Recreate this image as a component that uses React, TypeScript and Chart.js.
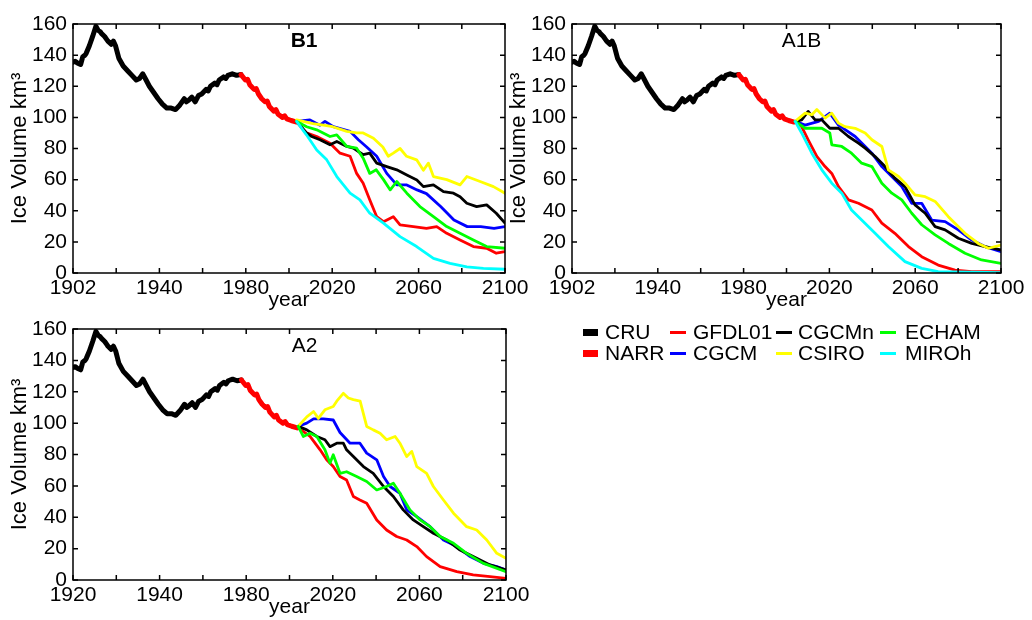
import React, { useEffect, useRef } from 'react';
import { Chart, registerables } from 'chart.js';

Chart.register(...registerables);

const FONT = '"Liberation Sans", Arial, Helvetica, sans-serif';

// ---------- data ----------
const cru: number[][] = [
  [1902, 135.5], [1903, 136], [1904, 135], [1905.5, 134], [1906.5, 139], [1907.5, 140], [1908, 141], [1909.5, 146], [1911, 152],
  [1912.5, 158.5], [1913.5, 156], [1914.5, 155], [1915, 154], [1916.5, 152], [1917.5, 150], [1918, 149], [1919.5, 147], [1920.5, 149],
  [1921.5, 146], [1923, 138], [1925, 133], [1927, 130], [1929, 127], [1931, 124], [1932.5, 125],
  [1934, 128], [1935.5, 124], [1937, 120], [1939, 116], [1941, 112], [1943, 108.5], [1945, 106],
  [1947, 106], [1949, 105], [1951, 108], [1953, 112], [1954, 110], [1955, 111], [1956.5, 113], [1957, 112], [1958, 110],
  [1959.5, 114], [1961, 115], [1963, 118], [1964, 117], [1965, 120], [1967, 122], [1968, 121], [1969, 124], [1971, 126],
  [1972, 125], [1973, 127], [1975, 128], [1977, 127], [1979, 127.5],
];
const narr: number[][] = [
  [1979, 127.5], [1981, 124], [1982, 124.5], [1983, 121], [1985, 118], [1986, 118.5], [1987, 115], [1988.5, 112], [1990, 110],
  [1991, 110.5], [1992, 107], [1994, 104], [1995, 105], [1996, 102], [1998, 100], [1999, 101], [2000, 99], [2002, 98], [2004.5, 97],
];

// B1 scenario
const b1Gfdl: number[][] = [
  [2004.5, 97], [2009, 90], [2013.7, 87.7], [2019.8, 83.4], [2024.4, 77], [2029, 75], [2032, 64],
  [2035, 57.7], [2038, 47], [2041.2, 36.2], [2044.3, 33], [2048.8, 36.2], [2051.9, 30.9], [2058, 29.8],
  [2064, 28.7], [2068.7, 29.8], [2073.3, 25.5], [2079.4, 21.2], [2085.5, 17], [2091.6, 15.9], [2096, 12.7], [2100, 13.7],
];
const b1Cgcm: number[][] = [
  [2004.5, 97.4], [2010.6, 98.4], [2015.2, 95], [2017.5, 97.4], [2021.3, 94], [2029, 91], [2032.8, 85.6],
  [2036.6, 81], [2041.2, 75], [2045.8, 64], [2050.4, 56.6], [2055, 56.6], [2059.7, 53.4], [2064, 51],
  [2070.5, 42.7], [2076.6, 34], [2082.7, 29.8], [2088.9, 29.8], [2095, 28.7], [2100, 29.8],
];
const b1Cgcmn: number[][] = [
  [2004.5, 97.4], [2009, 90], [2011.4, 87.7], [2015.2, 85.6], [2019.8, 82.4], [2022.9, 84.5], [2027.5, 81.3],
  [2030.5, 80.2], [2035, 76], [2038, 77], [2041.2, 70.6], [2045.8, 68.4], [2050.4, 66.3], [2055, 63],
  [2059.6, 59.8], [2062.6, 55.5], [2067.2, 56.6], [2071.8, 52.3], [2076.4, 51.3], [2079.4, 49], [2082.5, 44.8],
  [2087, 42.7], [2091.6, 43.8], [2096, 38.4], [2100, 32],
];
const b1Csiro: number[][] = [
  [2004.5, 98.4], [2012, 96], [2016.8, 95], [2021, 94], [2027.5, 91], [2032, 90], [2035, 90], [2039.7, 86.6],
  [2044, 81], [2046.5, 75], [2048.8, 77], [2051.9, 80], [2054.9, 75], [2059.5, 72.7], [2062.6, 66],
  [2064.9, 70.6], [2067.2, 62], [2073.3, 60], [2079.4, 56.6], [2082.5, 62], [2088.6, 58.8], [2094.7, 55.5], [2100, 51.3],
];
const b1Echam: number[][] = [
  [2004.5, 97.4], [2009.1, 94], [2013.7, 92], [2019.8, 87.7], [2022.9, 88.8], [2027.5, 81.3], [2032, 80.2],
  [2035, 73.8], [2038, 64], [2041, 66.3], [2044.3, 60], [2047.4, 53.4], [2050.4, 58.8], [2055, 51.3],
  [2061, 42.7], [2067.2, 36.2], [2073.3, 29.8], [2079.4, 25.5], [2085.5, 21.2], [2091.6, 17], [2100, 15.9],
];
const b1Miroh: number[][] = [
  [2004.5, 97.4], [2009, 88.8], [2013.7, 79], [2018.3, 72.7], [2022.9, 62], [2029, 51.3], [2033.5, 47],
  [2038, 38.4], [2044.3, 32], [2051.9, 23.4], [2059.5, 17], [2067.2, 9.4], [2074.8, 6.2], [2082.5, 4],
  [2090.1, 3], [2100, 2.4],
];

// A1B scenario
const a1bGfdl: number[][] = [
  [2005, 97.4], [2008, 94], [2011, 85.6], [2015, 74.9], [2018.8, 68.4], [2021.9, 64], [2025, 55.5],
  [2029.6, 47], [2034.2, 44.8], [2040.4, 40.5], [2045, 32], [2051, 25.5], [2057.3, 17], [2063.4, 10.5],
  [2071, 5.1], [2078.8, 1.9], [2086.5, 0.9], [2100, 0.9],
];
const a1bCgcm: number[][] = [
  [2005, 97.4], [2009.6, 95], [2015.8, 97.4], [2021, 102.7], [2025, 95], [2032.7, 87.7], [2037.3, 81.3],
  [2040.4, 77], [2045, 68.4], [2049.6, 62], [2054.2, 55.5], [2058.8, 44.8], [2063.4, 44.8], [2068, 34],
  [2074.2, 33], [2080.3, 27.7], [2086.5, 21.2], [2092.6, 17], [2100, 13.7],
];
const a1bCgcmn: number[][] = [
  [2005, 97.4], [2008, 98.4], [2011, 103.8], [2014.2, 98.4], [2017.3, 98.4], [2021, 93], [2025, 93],
  [2029.6, 87.7], [2034.2, 83.4], [2037.3, 80.2], [2041.9, 74.8], [2046.5, 68.4], [2051, 61], [2055.7, 55.5],
  [2060.3, 43.8], [2065, 38.4], [2069.6, 29.8], [2074.2, 27.7], [2080.3, 22.3], [2086.5, 19], [2092.6, 17], [2100, 14.8],
];
const a1bCsiro: number[][] = [
  [2005, 97.4], [2009.6, 102.7], [2012.7, 101.7], [2015, 105], [2018.8, 99.5], [2021.9, 102.7], [2025, 96.3],
  [2028, 94], [2032.7, 93], [2037.3, 90], [2040.4, 85.6], [2045, 81.3], [2048, 66.3], [2052.7, 62],
  [2055.7, 57.7], [2060.3, 50.2], [2065, 49], [2069.6, 46], [2075.7, 36.2], [2083.4, 25.5], [2089.5, 19],
  [2094.2, 15.9], [2100, 18],
];
const a1bEcham: number[][] = [
  [2005, 97.4], [2009.6, 93], [2017.3, 93], [2021, 90], [2021.9, 82.4], [2026.5, 81.3], [2031, 77],
  [2035.7, 70.6], [2040.4, 68.4], [2045, 57.7], [2049.6, 51.3], [2054.2, 47], [2058.8, 38.4], [2063.4, 31],
  [2069.6, 24.5], [2075.7, 19], [2083.4, 12.7], [2091, 8.4], [2100, 6.2],
];
const a1bMiroh: number[][] = [
  [2005, 97.4], [2008, 90], [2012.7, 77], [2017.3, 66.3], [2021.9, 57.7], [2026.5, 51.3], [2031, 40.5],
  [2035.7, 34], [2041.9, 25.5], [2048, 17], [2055.7, 7.3], [2063.4, 3], [2071, 0.9], [2100, 0.2],
];

// A2 scenario
const a2Gfdl: number[][] = [
  [2005, 97], [2010.4, 91.5], [2015, 83], [2018, 76.6], [2021, 72.3], [2024.1, 66], [2027.1, 63.8],
  [2030.2, 53.2], [2033.2, 51], [2036.3, 48.9], [2040.9, 38.3], [2045.4, 31.9], [2050, 27.7], [2054.6, 25.5],
  [2059.2, 21.3], [2063.7, 14.9], [2069.9, 8.5], [2077.5, 5.3], [2085, 3.2], [2092.7, 2.1], [2100, 1],
];
const a2Cgcm: number[][] = [
  [2005, 98], [2008.9, 100], [2012, 102.7], [2016.5, 102.7], [2021, 102], [2024.1, 94], [2028.7, 87.2],
  [2033.2, 87.2], [2036.3, 80.9], [2040.9, 76.6], [2044, 66], [2047, 59.6], [2051.5, 55.3], [2054.6, 44.7],
  [2059.2, 40.4], [2065.3, 34], [2071.4, 25.5], [2077.5, 21.3], [2083.6, 14.9], [2089.7, 10.6], [2095.8, 8.5], [2100, 6.4],
];
const a2Cgcmn: number[][] = [
  [2005, 98], [2008.9, 95.7], [2013.5, 91.5], [2017.2, 89.4], [2019.5, 85], [2022.6, 87.2], [2025.6, 87.2],
  [2027.1, 83], [2030.2, 78.7], [2034.8, 72.3], [2039.3, 68], [2044, 59.6], [2048.5, 53.2], [2053, 44.7],
  [2057.6, 38.3], [2062.2, 34], [2066.8, 29.8], [2072.9, 25.5], [2079, 19.1], [2085, 14.9], [2092.7, 9.6], [2100, 6.4],
];
const a2Csiro: number[][] = [
  [2005, 98], [2008.9, 104], [2012, 107.4], [2014.2, 103], [2017.2, 108.5], [2021, 110.6], [2022.6, 114],
  [2025.6, 119], [2027.9, 116], [2030.2, 115], [2033.3, 114], [2036.3, 97.9], [2039.3, 95.7], [2042.4, 93.6],
  [2045.4, 89.4], [2049.3, 91.5], [2051.5, 87.2], [2054.6, 78.7], [2056.9, 82], [2059.2, 72.3], [2063.7, 68],
  [2066.8, 59.6], [2071.4, 51], [2076, 42.6], [2082, 34], [2086.6, 31.9], [2091.2, 25.5], [2095.8, 17], [2100, 13.8],
];
const a2Echam: number[][] = [
  [2005, 98], [2007.3, 91.5], [2010.4, 93.6], [2013.5, 91.5], [2017.2, 83], [2019.5, 74.5], [2021, 79.8],
  [2024.1, 68], [2027.1, 69], [2031.7, 66], [2036.3, 62.8], [2040.9, 57.4], [2045.4, 59.6], [2048.5, 61.7],
  [2051.5, 55.3], [2056.1, 44.7], [2060.7, 38.3], [2065.3, 34], [2069.9, 27.7], [2076, 23.4], [2082, 17],
  [2089.7, 10.6], [2100, 5.3],
];

const xTickValues = [1902, 1921.8, 1941.6, 1961.4, 1981.2, 2001, 2020.8, 2040.6, 2060.4, 2080.2, 2100];
const xLabelsTop = ['1902', '1940', '1980', '2020', '2060', '2100'];
const xLabelsBottom = ['1920', '1940', '1980', '2020', '2060', '2100'];
const yTickStep = 20;

const legendNames = ['CRU', 'NARR', 'GFDL01', 'CGCM', 'CGCMn', 'CSIRO', 'ECHAM', 'MIROh'];
const legendColors = ['#000000', '#ff0000', '#ff0000', '#0000ff', '#000000', '#ffff00', '#00ff00', '#00ffff'];
const legendThick = [7, 7, 3, 3, 3, 3, 3, 3];

const COL = {
  CRU: '#000000', NARR: '#ff0000', GFDL01: '#ff0000', CGCM: '#0000ff',
  CGCMn: '#000000', CSIRO: '#ffff00', ECHAM: '#00ff00', MIROh: '#00ffff',
};

type Series = { name: string; data: number[][]; color: string; width: number };

const PW = 2.8;

const histSeries = (): Series[] => [
  { name: 'CRU', data: cru, color: COL.CRU, width: 5 },
  { name: 'NARR', data: narr, color: COL.NARR, width: 5 },
];

const panels = [
  {
    title: 'B1', bold: true, left: 73, right: 505, top: 24, bottom: 273, xLabels: xLabelsTop,
    series: [
      ...histSeries(),
      { name: 'GFDL01', data: b1Gfdl, color: COL.GFDL01, width: PW },
      { name: 'CGCM', data: b1Cgcm, color: COL.CGCM, width: PW },
      { name: 'CGCMn', data: b1Cgcmn, color: COL.CGCMn, width: PW },
      { name: 'CSIRO', data: b1Csiro, color: COL.CSIRO, width: PW },
      { name: 'ECHAM', data: b1Echam, color: COL.ECHAM, width: PW },
      { name: 'MIROh', data: b1Miroh, color: COL.MIROh, width: PW },
    ],
  },
  {
    title: 'A1B', bold: false, left: 572, right: 1001, top: 24, bottom: 273, xLabels: xLabelsTop,
    series: [
      ...histSeries(),
      { name: 'GFDL01', data: a1bGfdl, color: COL.GFDL01, width: PW },
      { name: 'CGCM', data: a1bCgcm, color: COL.CGCM, width: PW },
      { name: 'CGCMn', data: a1bCgcmn, color: COL.CGCMn, width: PW },
      { name: 'CSIRO', data: a1bCsiro, color: COL.CSIRO, width: PW },
      { name: 'ECHAM', data: a1bEcham, color: COL.ECHAM, width: PW },
      { name: 'MIROh', data: a1bMiroh, color: COL.MIROh, width: PW },
    ],
  },
  {
    title: 'A2', bold: false, left: 73, right: 506, top: 329, bottom: 580, xLabels: xLabelsBottom,
    series: [
      ...histSeries(),
      { name: 'GFDL01', data: a2Gfdl, color: COL.GFDL01, width: PW },
      { name: 'CGCM', data: a2Cgcm, color: COL.CGCM, width: PW },
      { name: 'CGCMn', data: a2Cgcmn, color: COL.CGCMn, width: PW },
      { name: 'CSIRO', data: a2Csiro, color: COL.CSIRO, width: PW },
      { name: 'ECHAM', data: a2Echam, color: COL.ECHAM, width: PW },
    ],
  },
];

const W = 1032;
const H = 620;
const Y_AXIS_W = 73;
const X_AXIS_H = 40;

const boxPlugin = {
  id: 'matlabBox',
  afterDraw(chart: any, _args: any, opts: any) {
    const { ctx, chartArea } = chart;
    const { left, right, top, bottom } = chartArea;
    const xs = chart.scales.x;
    const ys = chart.scales.y;
    ctx.save();
    ctx.strokeStyle = '#000';
    ctx.lineWidth = 1.5;
    ctx.strokeRect(left, top, right - left, bottom - top);
    const L = 5;
    ctx.beginPath();
    xs.ticks.forEach((t: any) => {
      const px = xs.getPixelForValue(t.value);
      ctx.moveTo(px, bottom); ctx.lineTo(px, bottom - L);
      ctx.moveTo(px, top); ctx.lineTo(px, top + L);
    });
    ys.ticks.forEach((t: any) => {
      const py = ys.getPixelForValue(t.value);
      ctx.moveTo(left, py); ctx.lineTo(left + L, py);
      ctx.moveTo(right, py); ctx.lineTo(right - L, py);
    });
    ctx.stroke();
    ctx.font = `${opts.bold ? 'bold ' : ''}21px ${FONT}`;
    ctx.fillStyle = '#000';
    ctx.textAlign = 'center';
    ctx.textBaseline = 'middle';
    ctx.fillText(opts.text, left + (right - left) * 0.535, top + 17);
    ctx.restore();
  },
};

function Panel({ cfg }: { cfg: any }) {
  const ref = useRef<HTMLCanvasElement | null>(null);
  useEffect(() => {
    if (!ref.current) return;
    const n = cfg.series.length;
    const chart = new Chart(ref.current, {
      type: 'line',
      data: {
        datasets: cfg.series.map((s: Series, i: number) => ({
          label: s.name,
          data: s.data.map(([x, y]) => ({ x, y })),
          borderColor: s.color,
          backgroundColor: s.color,
          borderWidth: s.width,
          pointRadius: 0,
          fill: false,
          tension: 0,
          borderJoinStyle: 'round',
          borderCapStyle: 'round',
          order: n - i,
        })),
      },
      options: {
        responsive: false,
        animation: false,
        events: [],
        layout: {
          padding: {
            left: cfg.left - Y_AXIS_W,
            right: W - cfg.right,
            top: cfg.top,
            bottom: H - cfg.bottom - X_AXIS_H,
          },
        },
        plugins: {
          legend: { display: false },
          tooltip: { enabled: false },
          matlabBox: { text: cfg.title, bold: cfg.bold },
        } as any,
        scales: {
          x: {
            type: 'linear',
            min: 1902,
            max: 2100,
            afterBuildTicks: (s: any) => {
              s.ticks = xTickValues.map((v) => ({ value: v }));
            },
            afterFit: (s: any) => {
              s.height = X_AXIS_H;
              s.paddingLeft = 0;
              s.paddingRight = 0;
            },
            grid: { display: false, drawTicks: false },
            border: { display: false },
            ticks: {
              autoSkip: false,
              maxRotation: 0,
              minRotation: 0,
              padding: 3,
              color: '#000',
              font: { family: FONT, size: 21 },
              callback: (_v: any, i: number) => (i % 2 === 0 ? cfg.xLabels[i / 2] : ''),
            },
            title: {
              display: true,
              text: 'year',
              color: '#000',
              padding: 0,
              font: { family: FONT, size: 21 },
            },
          },
          y: {
            type: 'linear',
            min: 0,
            max: 160,
            afterFit: (s: any) => {
              s.width = Y_AXIS_W;
              s.paddingTop = 0;
              s.paddingBottom = 0;
            },
            grid: { display: false, drawTicks: false },
            border: { display: false },
            ticks: {
              stepSize: yTickStep,
              padding: 6,
              color: '#000',
              font: { family: FONT, size: 21 },
            },
            title: {
              display: true,
              text: 'Ice Volume km³',
              color: '#000',
              padding: { top: 7, bottom: 0 },
              font: { family: FONT, size: 22 },
            },
          },
        },
      } as any,
      plugins: [boxPlugin as any],
    });
    return () => chart.destroy();
  }, [cfg]);
  return (
    <canvas
      ref={ref}
      width={W}
      height={H}
      style={{ position: 'absolute', left: 0, top: 0, width: W, height: H }}
    />
  );
}

function Legend() {
  const markerX = [583, 670, 776, 880];
  const textX = [605, 693, 798, 905];
  const rowY = [332, 353];
  return (
    <div style={{ position: 'absolute', left: 0, top: 0, width: W, height: H, pointerEvents: 'none' }}>
      {legendNames.map((name, i) => {
        const col = Math.floor(i / 2);
        const row = i % 2;
        const th = legendThick[i];
        return (
          <React.Fragment key={name}>
            <div
              style={{
                position: 'absolute',
                left: markerX[col],
                top: rowY[row] - th / 2,
                width: col === 0 ? 15 : 16,
                height: th,
                background: legendColors[i],
              }}
            />
            <div
              style={{
                position: 'absolute',
                left: textX[col],
                top: rowY[row] - 12,
                height: 24,
                lineHeight: '24px',
                fontFamily: FONT,
                fontSize: 21,
                color: '#000',
                whiteSpace: 'nowrap',
              }}
            >
              {name}
            </div>
          </React.Fragment>
        );
      })}
    </div>
  );
}

export default function App() {
  return (
    <div style={{ position: 'absolute', left: 0, top: 0, width: W, height: H, background: '#fff' }}>
      {panels.map((p) => (
        <Panel key={p.title} cfg={p} />
      ))}
      <Legend />
    </div>
  );
}
